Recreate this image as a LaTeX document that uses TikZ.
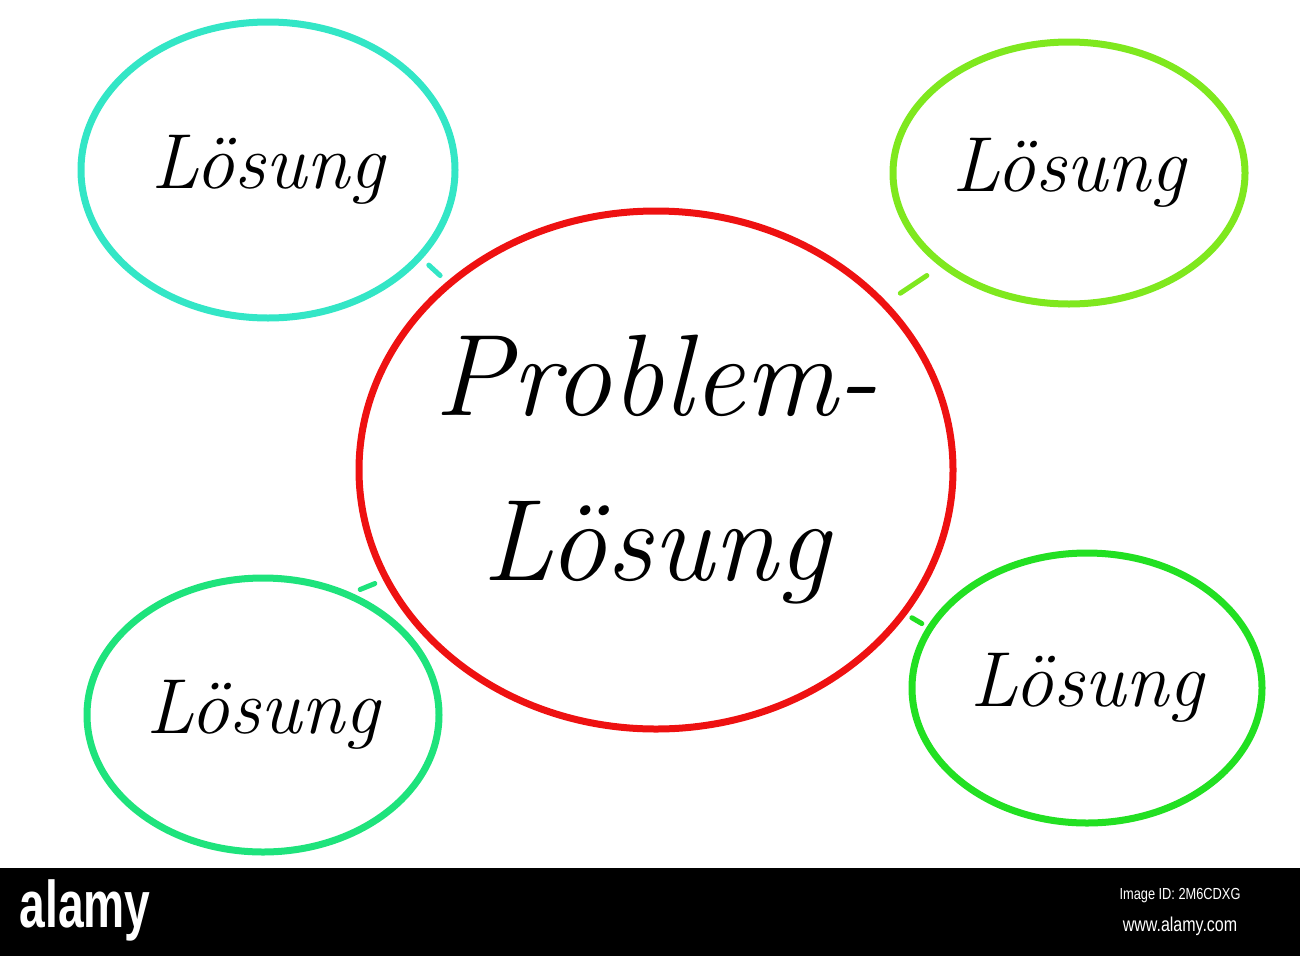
\documentclass[tikz,border=0pt]{standalone}
\usepackage{fontspec}
\newfontfamily\barfont{Liberation Sans}
\usepackage{xcolor}
\definecolor{probColor}{HTML}{EE1111}
\definecolor{tlColor}{HTML}{33E6C6}
\definecolor{trColor}{HTML}{7FE81E}
\definecolor{blColor}{HTML}{1EE37C}
\definecolor{brColor}{HTML}{22E022}
\usepackage{tikz}
\usetikzlibrary{shapes.geometric}

\begin{document}
\begin{tikzpicture}[x=1pt, y=-1pt,
  sol/.style={ellipse, line width=7pt, inner sep=0pt,
    font=\fontsize{78}{80}\selectfont\itshape},
  link/.style={line width=5pt, line cap=round},
  barText/.style={white, inner sep=0pt}]
  \useasboundingbox (0,0) rectangle (1300,956);

  \node[ellipse, draw=probColor, line width=7pt, inner sep=-80pt,
  minimum width=594pt, minimum height=518pt, align=center,
  font=\fontsize{116}{165}\selectfont\itshape] (prob) at (656,470) {Problem-\\Lösung};

  \foreach \name/\x/\y/\w/\h/\col in {tl/268/170/374/296/tlColor,
    tr/1069/173/352/262/trColor, bl/263/715/352/274/blColor,
    br/1087/688/350/270/brColor}
  \node[sol, draw=\col, minimum width=\w pt, minimum height=\h pt] (\name) at (\x,\y) {Lösung};

  \foreach \name/\a/\b/\gap/\col in {tl/-30/138/9/tlColor, tr/216/36/16/trColor,
    bl/54/202/9/blColor, br/159/-30/6/brColor}
  \draw[link, \col, shorten <=\gap pt, shorten >=\gap pt] (\name.\a) -- (prob.\b);

  \fill[black] (0,868) rectangle (1300,956);
  \node[barText, font=\barfont\bfseries\fontsize{66}{68}\selectfont] (logo) at (85,910) {\scalebox{0.7}[1]{alamy}};
  \node[barText, font=\barfont\fontsize{16}{18}\selectfont] (imgId) at (1180,896) {\scalebox{0.8}[1]{Image ID: 2M6CDXG}};
  \node[barText, font=\barfont\fontsize{20}{22}\selectfont] (web) at (1180,926) {\scalebox{0.8}[1]{www.alamy.com}};
\end{tikzpicture}
\end{document}
